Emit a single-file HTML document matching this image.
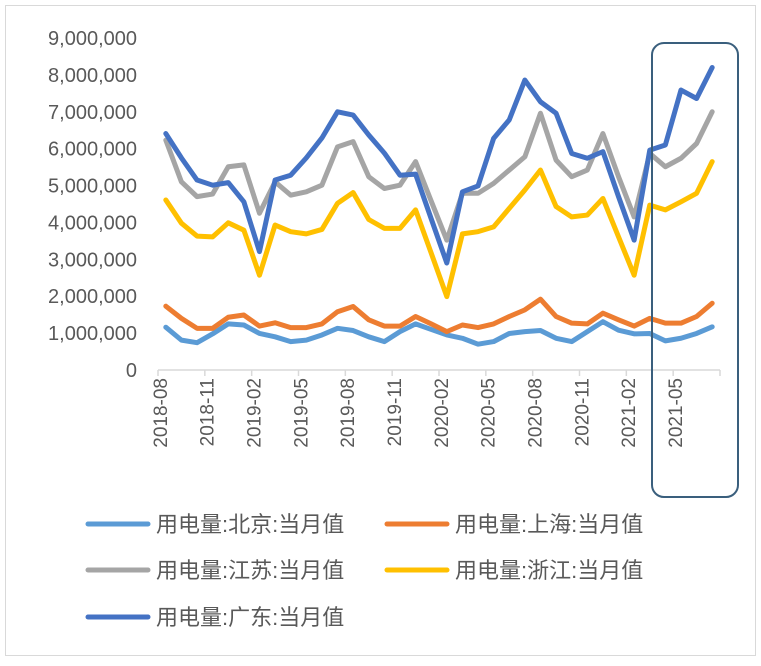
<!DOCTYPE html>
<html><head><meta charset="utf-8"><style>
body{margin:0;background:#fff;}
svg text{font-family:"Liberation Sans","Noto Sans CJK SC",sans-serif;fill:#595959;}
</style></head><body>
<svg width="761" height="661">
<rect x="5.5" y="5.5" width="750" height="650" fill="#fff" stroke="#d9d9d9"/>
<g id="yaxis"></g>
<g id="xaxis"></g>
<g id="series"></g>
<rect x="652" y="43" width="86" height="454" rx="12" fill="none" stroke="#3a5f7d" stroke-width="2"/>
<g id="legend"></g>
</svg>
<script>
const categories=[];
for(let i=0;i<36;i++){const m=(7+i)%12+1,y=2018+Math.floor((7+i)/12);categories.push(y+'-'+String(m).padStart(2,'0'));}
const yTicks=[0,1000000,2000000,3000000,4000000,5000000,6000000,7000000,8000000,9000000];
const seriesNames=['用电量:北京:当月值','用电量:上海:当月值','用电量:江苏:当月值','用电量:浙江:当月值','用电量:广东:当月值'];
const beijing=[1.16,0.81,0.74,0.98,1.25,1.22,0.99,0.90,0.77,0.81,0.95,1.13,1.07,0.90,0.77,1.04,1.25,1.10,0.95,0.86,0.70,0.77,0.99,1.04,1.07,0.86,0.77,1.04,1.31,1.08,0.98,0.99,0.79,0.86,0.99,1.17];
const shanghai=[1.73,1.40,1.13,1.13,1.43,1.49,1.19,1.28,1.15,1.15,1.25,1.58,1.72,1.36,1.19,1.19,1.45,1.25,1.04,1.22,1.15,1.25,1.45,1.63,1.92,1.45,1.27,1.25,1.54,1.36,1.19,1.40,1.27,1.27,1.45,1.81];
const jiangsu=[6.23,5.10,4.70,4.77,5.51,5.56,4.25,5.10,4.74,4.83,5.01,6.05,6.19,5.24,4.92,5.01,5.65,4.58,3.52,4.79,4.79,5.06,5.42,5.78,6.96,5.69,5.24,5.42,6.41,5.24,4.15,5.87,5.51,5.74,6.14,7.00];
const zhejiang=[4.61,3.98,3.63,3.61,3.99,3.79,2.57,3.93,3.75,3.69,3.81,4.52,4.81,4.08,3.84,3.84,4.34,3.17,1.99,3.69,3.75,3.88,4.38,4.88,5.42,4.43,4.15,4.20,4.65,3.61,2.57,4.47,4.34,4.56,4.79,5.65];
const guangdong=[6.41,5.75,5.15,5.01,5.08,4.56,3.21,5.15,5.28,5.75,6.29,7.00,6.91,6.37,5.88,5.28,5.31,4.10,2.90,4.83,4.99,6.28,6.78,7.86,7.27,6.96,5.87,5.74,5.92,4.70,3.52,5.96,6.10,7.59,7.36,8.20];
const colors=['#5b9bd5','#ed7d31','#a5a5a5','#ffc000','#4472c4'];
const NS='http://www.w3.org/2000/svg';
const X0=158,X1=720,Y0=370,YMAX=9000000,YTOP=38;
const xs=i=>X0+(X1-X0)/categories.length*(i+0.5);
const ys=v=>Y0-(v/YMAX)*(Y0-YTOP);
function mk(t,a,p){const e=document.createElementNS(NS,t);for(const k in a)e.setAttribute(k,a[k]);p.appendChild(e);return e;}
const ya=document.getElementById('yaxis');
yTicks.forEach(v=>{const t=mk('text',{x:137,y:ys(v)+7,'text-anchor':'end','font-size':20},ya);t.textContent=v.toLocaleString('en-US');

});
const xa=document.getElementById('xaxis');
const ax=mk('line',{x1:X0,x2:X1,y1:Y0,y2:Y0,stroke:'#d9d9d9','stroke-width':1.5},xa);


for(let i=0;i<=categories.length;i+=3){const x=X0+(X1-X0)/categories.length*i;mk('line',{x1:x,x2:x,y1:Y0,y2:Y0+6,stroke:'#d9d9d9','stroke-width':1.5},xa);}
categories.forEach((c,i)=>{if(i%3)return;const x=xs(i)-6;const t=mk('text',{x:0,y:0,'text-anchor':'end','font-size':19,transform:`translate(${x+7},${Y0+8}) rotate(-90)`},xa);t.textContent=c;

});
const sg=document.getElementById('series');
[beijing,shanghai,jiangsu,zhejiang,guangdong].forEach((d,k)=>{const p=mk('polyline',{points:d.map((v,i)=>xs(i)+','+ys(v*1e6)).join(' '),fill:'none',stroke:colors[k],'stroke-width':5,'stroke-linejoin':'round','stroke-linecap':'round'},sg);

});
const lg=document.getElementById('legend');
const pos=[[88,524],[387,524],[88,570],[387,570],[88,617]];
seriesNames.forEach((n,k)=>{const [x,y]=pos[k];const g=mk('g',{},lg);


mk('line',{x1:x,x2:x+60,y1:y,y2:y,stroke:colors[k],'stroke-width':5,'stroke-linecap':'round'},g);
const t=mk('text',{x:x+68,y:y+8,'font-size':22},g);t.textContent=n;});
</script>
</body></html>
